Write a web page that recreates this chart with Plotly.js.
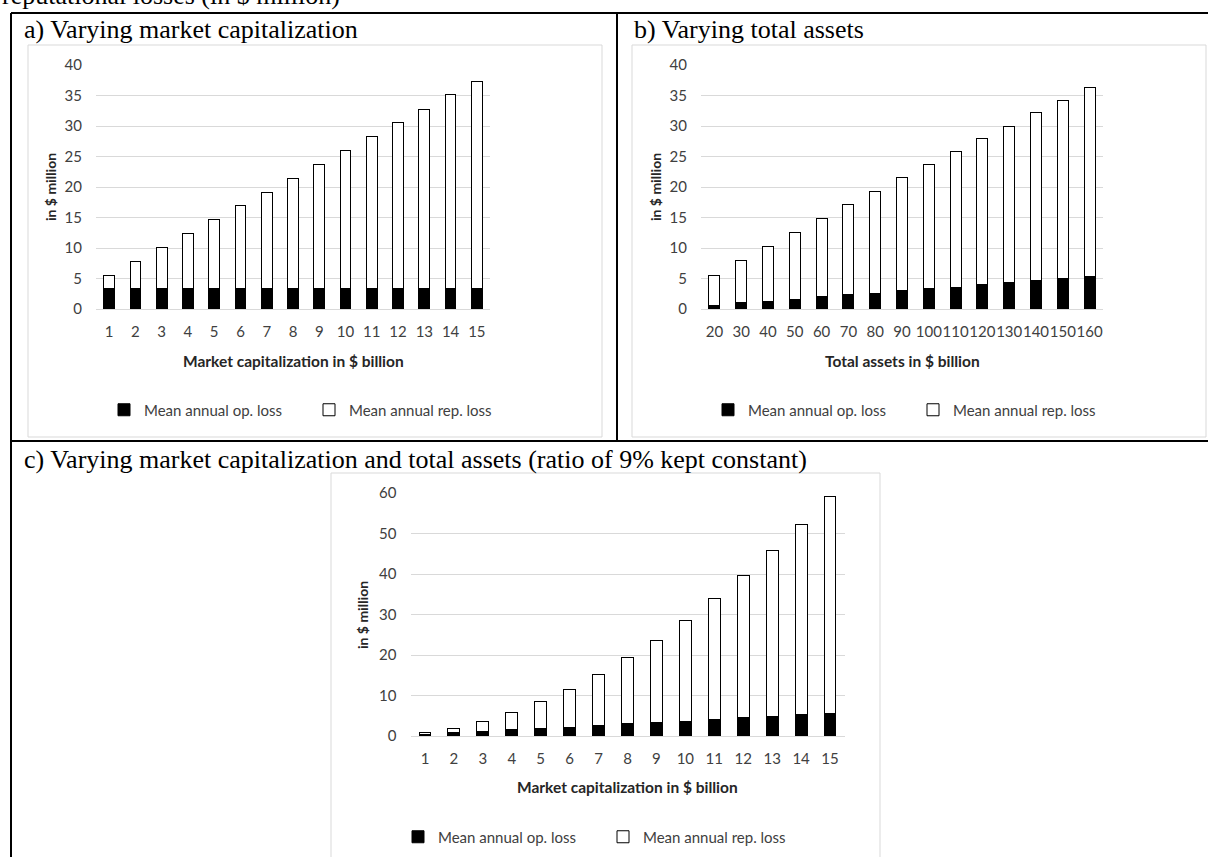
<!DOCTYPE html>
<html>
<head>
<meta charset="utf-8">
<script src="https://cdn.plot.ly/plotly-3.0.1.min.js"></script>
<style>html,body{margin:0;padding:0;background:#fff;}#chart{width:1208px;height:857px;}</style>
</head>
<body>
<div id="chart"></div>
<script>
// ---- Data ----
const catsA = ["1","2","3","4","5","6","7","8","9","10","11","12","13","14","15"];
const opA  = [3.3,3.3,3.3,3.3,3.3,3.3,3.3,3.3,3.3,3.3,3.3,3.3,3.3,3.3,3.3];
const repA = [2.2,4.5,6.8,9.1,11.3,13.6,15.8,18.1,20.4,22.7,24.9,27.2,29.4,31.8,34.0];

const catsB = ["20","30","40","50","60","70","80","90","100","110","120","130","140","150","160"];
const opB  = [0.6,1.0,1.3,1.6,2.0,2.3,2.6,3.0,3.3,3.6,4.0,4.3,4.7,5.0,5.4];
const repB = [4.9,6.9,9.0,11.0,12.9,14.9,16.7,18.5,20.4,22.2,23.9,25.7,27.5,29.2,30.9];

const catsC = ["1","2","3","4","5","6","7","8","9","10","11","12","13","14","15"];
const opC  = [0.4,0.75,1.1,1.5,1.85,2.2,2.6,3.0,3.35,3.7,4.1,4.5,4.85,5.2,5.6];
const repC = [0.4,1.2,2.55,4.35,6.6,9.3,12.5,16.3,20.35,24.9,29.8,35.1,40.85,47.0,53.5];

const nameOp = "Mean annual op. loss";
const nameRep = "Mean annual rep. loss";
const xTitleA = "Market capitalization in $ billion";
const xTitleB = "Total assets in $ billion";
const yTitle = "in $ million";
const titleA = "a) Varying market capitalization";
const titleB = "b) Varying total assets";
const titleC = "c) Varying market capitalization and total assets (ratio of 9% kept constant)";
const topLine = "reputational losses (in $ million)";

// ---- Helpers ----
const W = 1208, H = 857;
const px = v => v / W;
const py = v => 1 - v / H;
const tickFont = {family: "Lato, 'Open Sans', sans-serif", size: 15, color: "#404040"};
const boldFont = {family: "Lato, 'Open Sans', sans-serif", size: 15.5, color: "#262626", weight: "bold"};
const yTitleFont = {family: "Lato, 'Open Sans', sans-serif", size: 14, color: "#262626", weight: "bold"};
const serif = {family: "'Liberation Serif', 'Times New Roman', serif", size: 26, color: "#000"};

function pair(x, op, rep, xa, ya, lg) {
  return [
    {type: "bar", x: x, y: op, name: nameOp, xaxis: xa, yaxis: ya, legend: lg,
     marker: {color: "#000000", line: {color: "#000000", width: 1}}, hoverinfo: "x+y+name"},
    {type: "bar", x: x, y: rep, name: nameRep, xaxis: xa, yaxis: ya, legend: lg,
     marker: {color: "#ffffff", line: {color: "#000000", width: 1}}, hoverinfo: "x+y+name"}
  ];
}

const data = [].concat(
  pair(catsA, opA, repA, "x", "y", "legend"),
  pair(catsB, opB, repB, "x2", "y2", "legend2"),
  pair(catsC, opC, repC, "x3", "y3", "legend3")
);

function xax(dom, anchor) {
  return {domain: dom, anchor: anchor, type: "category", showgrid: false, zeroline: false,
    showline: true, linecolor: "#d9d9d9", linewidth: 1, ticks: "", tickangle: 0,
    tickfont: tickFont, ticklabelstandoff: 9, fixedrange: true};
}
function yax(dom, max, dt, anchor) {
  return {domain: dom, range: [0, max], dtick: dt, tick0: 0, anchor: anchor,
    showgrid: true, gridcolor: "#d9d9d9", gridwidth: 1, zeroline: false,
    showline: false, ticks: "", tickfont: tickFont, ticklabelstandoff: 13, fixedrange: true};
}

const yDomAB = [py(309), py(65)];
const yDomC = [py(736), py(493)];

function legendAt(xpix, ypix) {
  return {orientation: "h", x: px(xpix), y: py(ypix), xanchor: "left", yanchor: "middle",
    font: {family: "Lato, 'Open Sans', sans-serif", size: 15, color: "#404040"},
    entrywidth: 160, entrywidthmode: "pixels", traceorder: "normal",
    bgcolor: "rgba(0,0,0,0)", borderwidth: 0, itemwidth: 30, itemclick: false, itemdoubleclick: false};
}

function line(x0, y0, x1, y1, color, w) {
  return {type: "line", xref: "paper", yref: "paper", x0: px(x0), y0: py(y0), x1: px(x1), y1: py(y1),
    line: {color: color, width: w}, layer: "above"};
}
function box(x0, y0, x1, y1) {
  return {type: "rect", xref: "paper", yref: "paper", x0: px(x0), y0: py(y0), x1: px(x1), y1: py(y1),
    line: {color: "#d9d9d9", width: 1}, fillcolor: "rgba(0,0,0,0)", layer: "below"};
}

const shapes = [
  box(28, 45, 602, 437),
  box(632, 45, 1206, 437),
  box(331, 473, 880, 870),
  line(11, 13, 1208, 13, "#000", 2),
  line(11, 13, 11, 857, "#000", 2),
  line(617, 13, 617, 441, "#000", 2),
  line(11, 441, 1208, 441, "#000", 2)
];

function ann(text, x, y, font, extra) {
  return Object.assign({text: text, xref: "paper", yref: "paper", x: px(x), y: py(y),
    showarrow: false, font: font}, extra || {});
}

const annotations = [
  ann(topLine, 0, 12, serif, {xanchor: "left", yanchor: "bottom"}),
  ann(titleA, 22, 29, serif, {xanchor: "left", yanchor: "middle"}),
  ann(titleB, 632, 29, serif, {xanchor: "left", yanchor: "middle"}),
  ann(titleC, 22, 459, serif, {xanchor: "left", yanchor: "middle"}),
  ann(xTitleA, 293, 361, boldFont, {xanchor: "center", yanchor: "middle"}),
  ann(xTitleB, 902, 361, boldFont, {xanchor: "center", yanchor: "middle"}),
  ann(xTitleA, 627, 787, boldFont, {xanchor: "center", yanchor: "middle"}),
  ann(yTitle, 51, 187, yTitleFont, {xanchor: "center", yanchor: "middle", textangle: -90}),
  ann(yTitle, 656, 187, yTitleFont, {xanchor: "center", yanchor: "middle", textangle: -90}),
  ann(yTitle, 362, 615, yTitleFont, {xanchor: "center", yanchor: "middle", textangle: -90})
];

const layout = {
  width: W, height: H,
  margin: {l: 0, r: 0, t: 0, b: 0},
  paper_bgcolor: "#ffffff", plot_bgcolor: "rgba(0,0,0,0)",
  barmode: "stack", bargap: 0.59,
  showlegend: true,
  xaxis: xax([px(96), px(490)], "y"),
  yaxis: yax(yDomAB, 40, 5, "x"),
  xaxis2: xax([px(701), px(1103)], "y2"),
  yaxis2: yax(yDomAB, 40, 5, "x2"),
  xaxis3: xax([px(410.5), px(844.5)], "y3"),
  yaxis3: yax(yDomC, 60, 10, "x3"),
  legend: legendAt(104, 410),
  legend2: legendAt(708, 410),
  legend3: legendAt(398, 837),
  shapes: shapes,
  annotations: annotations
};

Plotly.newPlot("chart", data, layout, {displayModeBar: false});
</script>
</body>
</html>
